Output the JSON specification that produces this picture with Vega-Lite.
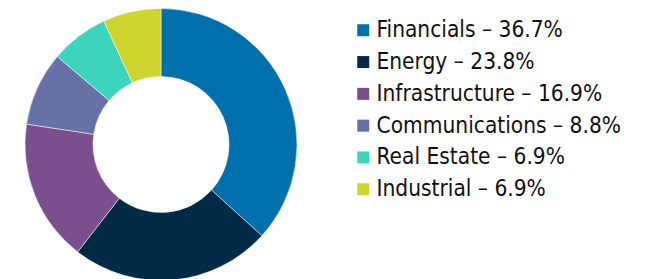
{
  "$schema": "https://vega.github.io/schema/vega-lite/v6.json",
  "width": 322,
  "height": 279,
  "padding": {"top": 5, "left": 0, "right": 0, "bottom": 0},
  "background": "white",
  "view": {"stroke": null},
  "data": {
    "values": [
      {"sector": "Financials – 36.7%", "share": 36.7, "order": 1},
      {"sector": "Energy – 23.8%", "share": 23.8, "order": 2},
      {"sector": "Infrastructure – 16.9%", "share": 16.9, "order": 3},
      {"sector": "Communications – 8.8%", "share": 8.8, "order": 4},
      {"sector": "Real Estate – 6.9%", "share": 6.9, "order": 5},
      {"sector": "Industrial – 6.9%", "share": 6.9, "order": 6}
    ]
  },
  "mark": {"type": "arc", "outerRadius": 136, "innerRadius": 68, "stroke": "white", "strokeWidth": 0.5},
  "encoding": {
    "theta": {"field": "share", "type": "quantitative", "stack": true},
    "order": {"field": "order", "type": "quantitative"},
    "color": {
      "field": "sector",
      "type": "nominal",
      "sort": ["Financials – 36.7%", "Energy – 23.8%", "Infrastructure – 16.9%", "Communications – 8.8%", "Real Estate – 6.9%", "Industrial – 6.9%"],
      "scale": {
        "domain": ["Financials – 36.7%", "Energy – 23.8%", "Infrastructure – 16.9%", "Communications – 8.8%", "Real Estate – 6.9%", "Industrial – 6.9%"],
        "range": ["#0070AD", "#002A46", "#7B4F8E", "#6871A5", "#3DD4BC", "#CDD42E"]
      },
      "legend": {
        "title": null,
        "orient": "none",
        "legendX": 352,
        "legendY": 14,
        "symbolType": "square",
        "symbolSize": 144,
        "symbolStrokeWidth": 0,
        "labelFont": "DejaVu Sans Condensed",
        "labelFontSize": 22.5,
        "labelColor": "#111111",
        "labelLimit": 400,
        "labelOffset": 2,
        "rowPadding": 8.8
      }
    }
  }
}
